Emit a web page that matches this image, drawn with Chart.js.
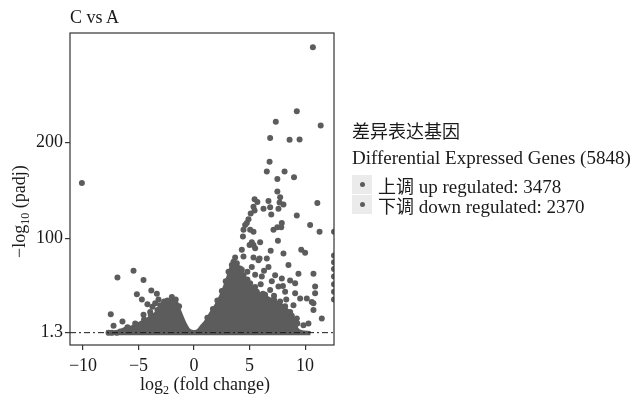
<!DOCTYPE html>
<html>
<head>
<meta charset="utf-8">
<script src="https://cdn.jsdelivr.net/npm/chart.js@4.4.1/dist/chart.umd.min.js"></script>
<style>
  html, body { margin: 0; padding: 0; background: #fff; }
  #wrap { position: relative; width: 635px; height: 401px; font-family: "Liberation Serif", serif; color: #1a1a1a; }
  #volcano { position: absolute; left: 0; top: 0; }
  .lbl { position: absolute; white-space: nowrap; font-size: 18px; line-height: 18px; }
  .lbl sub { font-size: 12px; vertical-align: -4px; line-height: 0; }
  .big { font-size: 19px; }
  #ytitle { transform-origin: 0 0; transform: rotate(-90deg); }
  .cjk { font-family: "Noto Sans CJK SC", sans-serif; font-size: 17px; }
  .key { position: absolute; width: 20px; height: 19px; background: #ebebeb; }
  .key span { position: absolute; left: 8px; top: 7px; width: 5px; height: 5px; border-radius: 50%; background: #5c5c5c; }
</style>
</head>
<body>
<div id="wrap">
  <canvas id="volcano" width="635" height="401"></canvas>
  <div class="lbl" style="left:70px;top:8px;">C vs A</div>
  <div class="lbl" id="ytitle" style="left:10px;top:258px;">−log<sub>10</sub> (padj)</div>
  <div class="lbl" id="xtitle" style="left:140px;top:375px;">log<sub>2</sub> (fold change)</div>
  <div class="lbl cjk" style="left:352px;top:121px;font-size:18px;">差异表达基因</div>
  <div class="lbl big" style="left:352px;top:149px;">Differential Expressed Genes (5848)</div>
  <div class="key" style="left:352px;top:175px;"><span></span></div>
  <div class="lbl big" style="left:378px;top:176px;"><span class="cjk" style="font-size:18px;">上调</span> up regulated: 3478</div>
  <div class="key" style="left:352px;top:195px;"><span></span></div>
  <div class="lbl big" style="left:378px;top:196px;"><span class="cjk" style="font-size:18px;">下调</span> down regulated: 2370</div>
</div>
<script>
// axis ticks and threshold
var xTicks = [-10, -5, 0, 5, 10];
var yTicks = [1.3, 100, 200];
var padjCut = 1.3;
var xMin = -11.17, xMax = 12.6;
var yMin = -11.6, yMax = 314.8;

// outline of the solid mass of overlapping points
var denseEdgeX = [-7.9, -6.8, -6.3, -5.6, -4.9, -4.1, -3.5, -3.0, -2.5, -2.2, -1.8, -1.5, -1.2, -0.8, -0.45, -0.1,
  0.3, 0.6, 1.0, 1.45, 1.9, 2.35, 2.7, 3.0, 3.25, 3.6, 4.05, 4.5, 5.05, 5.75, 6.65, 7.75, 8.55, 9.0, 9.3, 9.65, 10.5];
var denseEdgeY = [3, 3, 6, 8, 12, 17, 22, 27, 32, 36, 37.5, 33, 23, 12, 5, 3,
  4, 8, 13.5, 22, 30, 40, 50, 60, 69, 74, 71, 61.5, 52, 44, 38.5, 32, 24, 14.5, 6, 3, 2];
var denseBase = -1.3;

// down regulated genes, scattered
var downX = [-10.1, -6.9, -5.45, -4.55, -5.15, -3.85, -3.35, -4.7, -4.2, -3.2, -7.5, -7.25, -6.45, -4.55,
  -3.75, -3.5, -7.7, -7.4, -6.95, -6.65, -5.9, -5.15, -3.95, -3.05, -2.7,
  -6.0, -5.3, -4.5, -3.9, -3.3, -2.8, -2.4, -2.0, -1.65, -1.35];
var downY = [158, 59, 66, 56.5, 41.5, 45.5, 42, 36, 31, 36, 20.5, 8.5, 13, 20,
  28.5, 32, 1.3, 1.3, 1.3, 2.5, 4, 9.5, 23, 30, 34,
  7, 11, 15, 20, 25, 30, 35, 38.5, 36, 29];

// up regulated genes, scattered
var upX = [10.7, 9.25, 7.36, 11.4, 6.85, 8.6, 9.5, 6.8, 6.55, 8.15, 9.0, 7.5, 7.5, 7.75, 5.45, 5.7, 6.7, 7.7,
  8.05, 11.1, 5.35, 6.25, 6.85, 7.6, 5.1, 6.95, 5.45, 9.25, 4.9, 4.75, 4.6, 7.9, 10.45, 4.45, 5.05, 5.35,
  7.15, 7.5, 7.85, 11.3, 4.4, 5.2, 5.35, 5.95, 5.0, 5.5, 7.55, 4.3, 6.9, 8.05, 9.65, 10.0, 3.7, 4.45, 5.35,
  5.9, 12.6, 12.6, 12.6, 12.6, 12.6, 12.6, 12.6, 12.6, 8.5, 9.4, 10.75, 8.65, 6.7, 7.3, 6.1, 7.6, 6.85,
  8.2, 9.1, 10.9, 9.55, 10.15, 10.9, 10.6, 8.95, 11.5, 9.85, 9.25, 8.65, 7.75, 6.4, 5.65, 5.05, 4.45, 4.15,
  3.55, 5.8, 6.55, 5.2, 3.7, 10.75, 9.1, 9.3, 10.75, 10.3, 4.8, 5.5, 6.0, 6.3, 7.0, 7.9, 8.0, 7.2, 8.3, 5.5,
  1.2, 1.7, 2.1, 2.5, 2.85, 3.1, 3.4, 3.85, 4.3, 4.8, 5.4, 6.2, 7.2, 8.2, 8.8, 9.15];
var upY = [300, 233, 222, 218, 205, 203, 203.5, 180, 170, 170, 164, 162, 149, 143, 141, 138, 139, 137.5,
  135.5, 137, 133, 131, 132.5, 131, 126, 125, 129, 124, 120, 116, 114, 116, 114, 109, 109, 107,
  109, 111.5, 111.5, 107, 102, 96, 93, 96, 93, 89.5, 97.5, 88, 87, 84, 88, 85, 80, 81, 80,
  79, 107, 82, 75, 68, 60, 52, 44, 36, 72, 63, 63, 56, 70, 61.5, 60, 49.5, 46,
  44, 53, 49.5, 37, 37, 42.5, 33.5, 30, 16, 9, 16, 23, 34, 41, 44, 53, 61.5, 68.5,
  75.5, 77, 79, 70, 56, 25, 42.5, 11, 32, 11, 65, 62, 52, 66, 55, 58, 50, 40, 36, 49,
  17, 26, 35, 45, 55, 65, 72, 74, 67, 57, 48, 42, 36, 29, 19, 10];

function toPoints(xs, ys) {
  var pts = [];
  for (var i = 0; i < xs.length; i++) {
    pts.push({ x: xs[i], y: ys[i] });
  }
  return pts;
}

var dotColor = '#5c5c5c';
var serif = { family: 'Liberation Serif', size: 18 };

// draws the full box round the panel
var frameBox = {
  id: 'frameBox',
  afterDraw: function(chart) {
    var a = chart.chartArea;
    var ctx = chart.ctx;
    ctx.save();
    ctx.strokeStyle = '#333';
    ctx.lineWidth = 1.2;
    ctx.strokeRect(a.left, a.top, a.right - a.left, a.bottom - a.top);
    ctx.restore();
  }
};

var ctx = document.getElementById('volcano').getContext('2d');
var volcanoChart = new Chart(ctx, {
  type: 'scatter',
  data: {
    datasets: [
      {
        type: 'line',
        label: 'threshold',
        data: [{ x: xMin, y: padjCut }, { x: xMax, y: padjCut }],
        borderColor: '#1a1a1a',
        borderWidth: 1,
        borderDash: [6, 3, 2, 3],
        pointRadius: 0,
        order: 0
      },
      {
        label: 'up',
        data: toPoints(upX, upY),
        backgroundColor: dotColor,
        borderWidth: 0,
        pointRadius: 3,
        clip: 0,
        order: 1
      },
      {
        label: 'down',
        data: toPoints(downX, downY),
        backgroundColor: dotColor,
        borderWidth: 0,
        pointRadius: 3,
        clip: 0,
        order: 1
      },
      {
        type: 'line',
        label: 'dense',
        data: toPoints(denseEdgeX, denseEdgeY),
        borderColor: dotColor,
        backgroundColor: dotColor,
        borderWidth: 2,
        pointRadius: 0,
        tension: 0.25,
        fill: { value: denseBase },
        order: 2
      }
    ]
  },
  options: {
    responsive: false,
    animation: false,
    devicePixelRatio: 1,
    layout: { padding: { left: 0, right: 301, top: 33, bottom: 0 } },
    plugins: {
      legend: { display: false },
      tooltip: { enabled: false }
    },
    scales: {
      x: {
        type: 'linear',
        min: xMin,
        max: xMax,
        afterBuildTicks: function(axis) {
          axis.ticks = xTicks.map(function(v) { return { value: v }; });
        },
        afterFit: function(axis) { axis.height = 56; },
        grid: { drawOnChartArea: false, drawTicks: true, tickLength: 5, color: '#333', lineWidth: 1.2 },
        border: { display: false },
        ticks: {
          font: serif,
          color: '#1a1a1a',
          padding: 5,
          maxRotation: 0,
          callback: function(v) { return String(v).replace('-', '\u2212'); }
        }
      },
      y: {
        type: 'linear',
        min: yMin,
        max: yMax,
        afterBuildTicks: function(axis) {
          axis.ticks = yTicks.map(function(v) { return { value: v }; });
        },
        afterFit: function(axis) { axis.width = 70; },
        grid: { drawOnChartArea: false, drawTicks: true, tickLength: 5, color: '#333', lineWidth: 1.2 },
        border: { display: false },
        ticks: {
          font: serif,
          color: '#1a1a1a',
          padding: 2,
          callback: function(v) { return String(v); }
        }
      }
    }
  },
  plugins: [frameBox]
});
</script>
</body>
</html>
